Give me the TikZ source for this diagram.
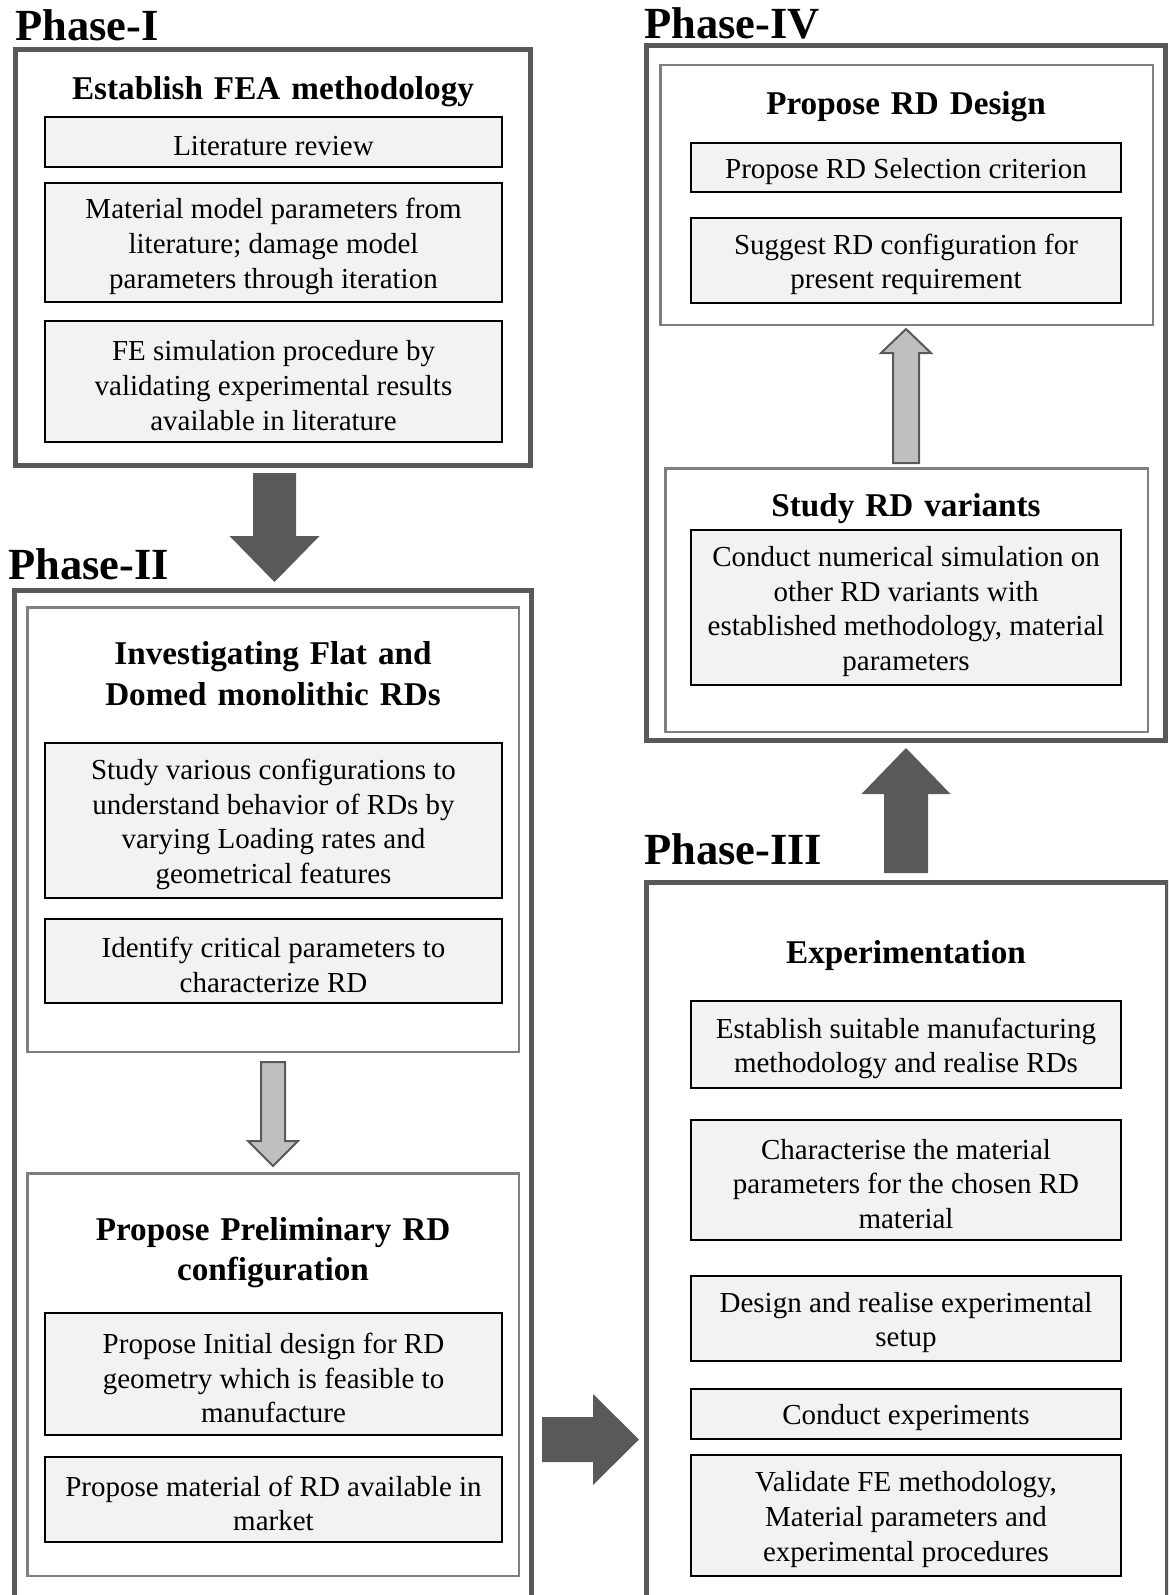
\documentclass[tikz,border=0pt]{standalone}
\usepackage{fontspec}
\setmainfont{Liberation Serif}
\usetikzlibrary{calc}
\definecolor{dgray}{HTML}{595959}
\definecolor{mgray}{HTML}{7F7F7F}
\definecolor{lgray}{HTML}{F2F2F2}
\definecolor{agray}{HTML}{BFBFBF}
\newcommand\bodyfs{\fontsize{29}{34.6}\selectfont}
\newcommand\titlefs{\fontsize{33.2}{40.7}\selectfont\bfseries\spaceskip=0.33em plus 0.1em}
\newcommand\phasefs{\fontsize{44.5}{50}\selectfont\bfseries}
\newcommand\blockarrow[6]{%
  \path ($(#3)!#6!(#2)$) coordinate (hb);
  \draw[#1] ($(#2)!#4!90:(#3)$) -- ($(hb)!#4!90:(#3)$) -- ($(hb)!#5!90:(#3)$) -- (#3)
    -- ($(hb)!#5!-90:(#3)$) -- ($(hb)!#4!-90:(#3)$) -- ($(#2)!#4!-90:(#3)$) -- cycle;
}
\begin{document}
\begin{tikzpicture}[x=1pt,y=-1pt,
  outerbox/.style={draw=dgray,line width=5pt,inner sep=0pt},
  groupbox/.style={draw=mgray,line width=2.5pt,inner sep=0pt},
  stepbox/.style={draw=black,line width=2pt,fill=lgray,inner sep=0pt},
  steptext/.style={align=center,inner sep=0pt,font=\bodyfs,yshift=-4pt},
  leftstep/.style={stepbox,minimum width=457pt},
  rightstep/.style={stepbox,minimum width=430pt},
  titletext/.style={align=center,inner sep=0pt,font=\titlefs,yshift=-3pt},
  phaselabel/.style={anchor=base west,inner sep=0pt,font=\phasefs},
  bigarrow/.style={fill=dgray,draw=none},
  smallarrow/.style={fill=agray,draw=dgray,line width=2pt,line join=miter}]
\useasboundingbox (0,0) rectangle (1168,1595);
\fill[white] (0,0) rectangle (1168,1595);
\clip (0,0) rectangle (1168,1595);

% ---------------- Phase I ----------------
\node[phaselabel] (l1) at (15,41) {Phase-I};
\node[outerbox,minimum width=515pt,minimum height=416pt] (p1) at (273,257.5) {};
\node[titletext] (t1) at (273,88.5) {Establish FEA methodology};
\node[leftstep,minimum height=50pt] (lit) at (273.5,142) {};
\node[steptext] at (lit) {Literature review};
\node[leftstep,minimum height=119pt] (mat) at (273.5,242.5) {};
\node[steptext] at (mat) {Material model parameters from\\literature; damage model\\parameters through iteration};
\node[leftstep,minimum height=121pt] (fes) at (273.5,381.5) {};
\node[steptext] at (fes) {FE simulation procedure by\\validating experimental results\\available in literature};

% ---------------- Phase II ----------------
\node[phaselabel] (l2) at (8,579) {Phase-II};
\node[outerbox,minimum width=517pt,minimum height=1009.5pt] (p2) at (273,1095.25) {};
\node[groupbox,minimum width=491.5pt,minimum height=444.5pt] (p2a) at (273,829.5) {};
\node[titletext] (t2a) at (273,670.5) {Investigating Flat and\\Domed monolithic RDs};
\node[leftstep,minimum height=155pt] (stu) at (273.5,820.5) {};
\node[steptext] at (stu) {Study various configurations to\\understand behavior of RDs by\\varying Loading rates and\\geometrical features};
\node[leftstep,minimum height=84pt] (idn) at (273.5,961) {};
\node[steptext] at (idn) {Identify critical parameters to\\characterize RD};
\node[groupbox,minimum width=491.5pt,minimum height=402.5pt] (p2b) at (273,1374.5) {};
\node[titletext] (t2b) at (273,1249.5) {Propose Preliminary RD\\configuration};
\node[leftstep,minimum height=122pt] (pin) at (273.5,1374) {};
\node[steptext] at (pin) {Propose Initial design for RD\\geometry which is feasible to\\manufacture};
\node[leftstep,minimum height=85pt] (pmt) at (273.5,1499.5) {};
\node[steptext] at (pmt) {Propose material of RD available in\\market};

% ---------------- Phase III ----------------
\node[phaselabel] (l3) at (644,864) {Phase-III};
\node[outerbox,minimum width=521pt,minimum height=717.5pt] (p3) at (907,1241.25) {};
\node[titletext] (t3) at (906,953) {Experimentation};
\node[rightstep,minimum height=87pt] (est) at (906,1044.5) {};
\node[steptext] at (est) {Establish suitable manufacturing\\methodology and realise RDs};
\node[rightstep,minimum height=120pt] (cha) at (906,1180) {};
\node[steptext] at (cha) {Characterise the material\\parameters for the chosen RD\\material};
\node[rightstep,minimum height=85pt] (des) at (906,1318.5) {};
\node[steptext] at (des) {Design and realise experimental\\setup};
\node[rightstep,minimum height=50pt] (con) at (906,1414) {};
\node[steptext] at (con) {Conduct experiments};
\node[rightstep,minimum height=121pt] (val) at (906,1515.5) {};
\node[steptext] at (val) {Validate FE methodology,\\Material parameters and\\experimental procedures};

% ---------------- Phase IV ----------------
\node[phaselabel] (l4) at (644,39) {Phase-IV};
\node[outerbox,minimum width=519pt,minimum height=694.5pt] (p4) at (906,393.25) {};
\node[groupbox,minimum width=492.5pt,minimum height=259.5pt] (p4a) at (906.5,195) {};
\node[titletext] (t4a) at (906,104) {Propose RD Design};
\node[rightstep,minimum height=49pt] (sel) at (906,167.5) {};
\node[steptext] at (sel) {Propose RD Selection criterion};
\node[rightstep,minimum height=85pt] (sug) at (906,260.5) {};
\node[steptext] at (sug) {Suggest RD configuration for\\present requirement};
\node[groupbox,minimum width=482.5pt,minimum height=263.5pt] (p4b) at (906.5,600) {};
\node[titletext] (t4b) at (906,506) {Study RD variants};
\node[rightstep,minimum height=155pt] (num) at (906,607.5) {};
\node[steptext] at (num) {Conduct numerical simulation on\\other RD variants with\\established methodology, material\\parameters};

% ---------------- Connectors ----------------
\coordinate (a12s) at ($(p1.south)+(1.5,5)$);
\coordinate (a12t) at ($(p2.north)+(1.5,-6)$);
\blockarrow{bigarrow}{a12s}{a12t}{21.5pt}{45pt}{46pt}

\coordinate (a2s) at ($(p2a.south)+(0,9)$);
\coordinate (a2t) at ($(p2b.north)+(0,-6)$);
\blockarrow{smallarrow}{a2s}{a2t}{12pt}{25pt}{25pt}

\coordinate (a23s) at ($(p2.east |- pmt.center)+(8,-60)$);
\coordinate (a23t) at ($(p3.west |- a23s)+(-5,0)$);
\blockarrow{bigarrow}{a23s}{a23t}{22.5pt}{45.5pt}{46pt}

\coordinate (a34s) at ($(p3.north)+(-1,-7)$);
\coordinate (a34t) at ($(p4.south)+(0,5)$);
\blockarrow{bigarrow}{a34s}{a34t}{22pt}{44.5pt}{46pt}

\coordinate (a4s) at ($(p4b.north)+(-0.5,-4)$);
\coordinate (a4t) at ($(p4a.south)+(-0.5,3)$);
\blockarrow{smallarrow}{a4s}{a4t}{13pt}{25pt}{24pt}
\end{tikzpicture}
\end{document}
